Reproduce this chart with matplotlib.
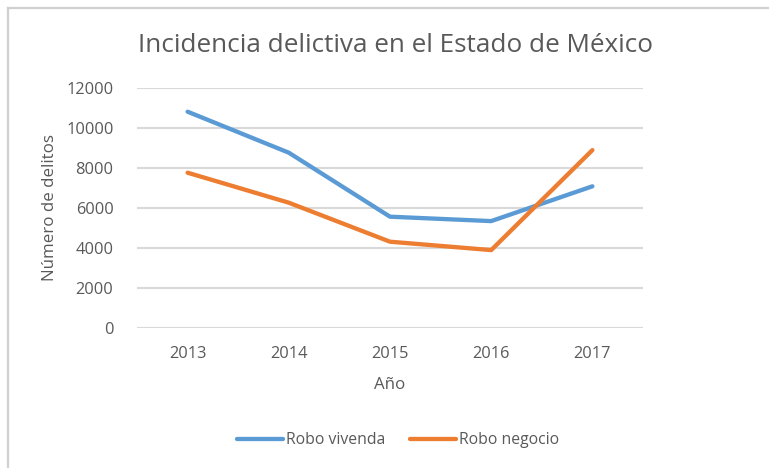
import matplotlib.pyplot as plt
from matplotlib.lines import Line2D

# data
years = ["2013", "2014", "2015", "2016", "2017"]
robo_vivienda = [10800, 8750, 5550, 5330, 7070]
robo_negocio = [7750, 6250, 4300, 3880, 8880]
y_ticks = [0, 2000, 4000, 6000, 8000, 10000, 12000]

blue = "#5B9BD5"
orange = "#ED7D31"
gray_txt = "#595959"
grid_col = "#D9D9D9"

plt.rcParams["font.family"] = ["Open Sans", "DejaVu Sans"]

W, H = 769, 468
fig = plt.figure(figsize=(W / 100, H / 100), dpi=100)

# plot area in pixel coords of the reference
left, right, top, bottom = 137, 643, 87.7, 327.7
ax = fig.add_axes([left / W, 1 - bottom / H, (right - left) / W, (bottom - top) / H])

x = range(len(years))
ax.plot(x, robo_vivienda, color=blue, lw=3.1, solid_capstyle="round", label="Robo vivenda", zorder=3)
ax.plot(x, robo_negocio, color=orange, lw=3.1, solid_capstyle="round", label="Robo negocio", zorder=3)

ax.set_xlim(-0.5, len(years) - 0.5)
ax.set_ylim(0, 12000)
ax.set_yticks(y_ticks)
ax.set_yticklabels([str(v) for v in y_ticks])
ax.set_xticks(list(x))
ax.set_xticklabels(years)
ax.yaxis.grid(True, color=grid_col, lw=1.5)
ax.set_axisbelow(True)
for s in ax.spines.values():
    s.set_visible(False)
ax.tick_params(length=0, colors=gray_txt, labelsize=11.8)
ax.tick_params(axis="y", pad=17)
ax.tick_params(axis="x", pad=13)

ax.set_ylabel("Número de delitos", color=gray_txt, fontsize=12.2, labelpad=6)
ax.set_xlabel("Año", color=gray_txt, fontsize=12.2, labelpad=11)

fig.text(396 / W, 1 - 45 / H, "Incidencia delictiva en el Estado de México",
         ha="center", va="center", color=gray_txt, fontsize=18.8)

handles = [Line2D([], [], color=blue, lw=3.1, solid_capstyle="round"),
           Line2D([], [], color=orange, lw=3.1, solid_capstyle="round")]
fig.legend(handles, ["Robo vivenda", "Robo negocio"], loc="center",
           bbox_to_anchor=(398 / W, 1 - 440 / H), ncol=2, frameon=False,
           fontsize=11.3, labelcolor=gray_txt, handlelength=2.9,
           handletextpad=0.2, columnspacing=1.6)

# light frame on top and left edges like the reference
fig.add_artist(Line2D([8 / W, 8 / W], [0, 1 - 7.5 / H], color="#D0D0D0", lw=1.6, transform=fig.transFigure))
fig.add_artist(Line2D([8 / W, 1], [1 - 7.5 / H, 1 - 7.5 / H], color="#D0D0D0", lw=1.6, transform=fig.transFigure))

fig.savefig("out.png", dpi=100)
